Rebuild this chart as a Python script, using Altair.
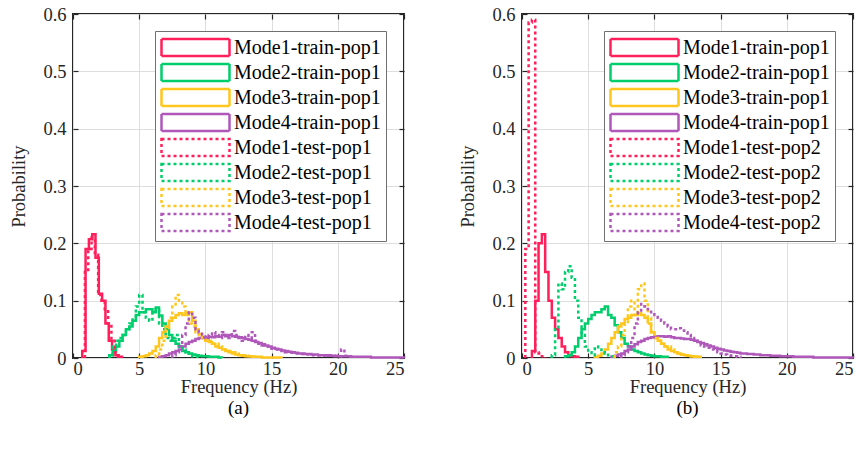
import altair as alt
import pandas as pd

FONT = "'Liberation Serif', 'Times New Roman', Times, serif"
BIN_WIDTH = 0.25  # Hz per histogram bin
W, H = 331, 344   # plot area of each panel

MODE_COLORS = ["#FF1F5B", "#00CD6C", "#FFC61E", "#AF58BA"]

# ---- panel (a): training population 1 vs. test population 1 ----
# first bin edge (Hz) of each histogram, modes 1..4
a_train_start = [0.7, 2.75, 5.0, 6.5]
a_test_start = [0.9, 2.75, 6.25, 7.5]

a_train_1 = [0.012, 0.19, 0.207, 0.216, 0.175, 0.112, 0.1, 0.06, 0.03, 0.015, 0.005, 0.002]
a_train_2 = [0.005, 0.012, 0.02, 0.03, 0.04, 0.05, 0.055, 0.065, 0.075, 0.08, 0.08, 0.085,
             0.085, 0.08, 0.088, 0.074, 0.06, 0.05, 0.04, 0.03, 0.025, 0.02, 0.012, 0.01,
             0.008, 0.006, 0.005, 0.004, 0.003, 0.003, 0.002, 0.002, 0.002, 0.001]
a_train_3 = [0.002, 0.003, 0.005, 0.008, 0.012, 0.02, 0.035, 0.045, 0.055, 0.065, 0.07, 0.075,
             0.078, 0.075, 0.078, 0.08, 0.065, 0.05, 0.042, 0.035, 0.03, 0.028, 0.025, 0.02,
             0.018, 0.015, 0.012, 0.01, 0.008, 0.006, 0.005, 0.004, 0.003, 0.003, 0.002, 0.002,
             0.002, 0.001, 0.001, 0.001, 0.001, 0.001, 0.001]
a_train_4 = [0.002, 0.003, 0.005, 0.008, 0.01, 0.012,
             0.015, 0.02, 0.025, 0.028, 0.03, 0.033,
             0.035, 0.036, 0.035, 0.037, 0.036, 0.038,
             0.037, 0.04, 0.038, 0.04, 0.038, 0.037,
             0.036, 0.035, 0.033, 0.032, 0.03, 0.028,
             0.026, 0.024, 0.022, 0.02, 0.018, 0.016,
             0.015, 0.013, 0.012, 0.011, 0.01, 0.009,
             0.008, 0.008, 0.007, 0.007, 0.006, 0.006,
             0.005, 0.005, 0.005, 0.004, 0.004, 0.004,
             0.003, 0.003, 0.003, 0.003, 0.002, 0.002,
             0.002, 0.002, 0.002, 0.002, 0.001, 0.001,
             0.001, 0.001, 0.001, 0.001, 0.001, 0.001, 0.001, 0.001]

a_test_1 = [0.15, 0.19, 0.21, 0.18, 0.11, 0.1, 0.085, 0.06, 0.03, 0.01, 0.003]
a_test_2 = [0.005, 0.02, 0.03, 0.035, 0.04, 0.05, 0.06, 0.07, 0.09, 0.11, 0.08, 0.07, 0.065,
            0.08, 0.085, 0.06, 0.05, 0.035, 0.03, 0.035, 0.04, 0.02, 0.015, 0.01, 0.005,
            0.003, 0.002]
a_test_3 = [0.005, 0.015, 0.03, 0.05, 0.07, 0.09, 0.11, 0.1, 0.09, 0.075, 0.06, 0.055, 0.045,
            0.04, 0.035, 0.03, 0.03, 0.025, 0.025, 0.02, 0.018, 0.015, 0.012, 0.01, 0.008,
            0.006, 0.005, 0.004, 0.003, 0.002]
a_test_4 = [0.005, 0.01, 0.02, 0.04, 0.06, 0.08, 0.07, 0.05, 0.045, 0.04, 0.035, 0.04,
            0.045, 0.04, 0.035, 0.045, 0.04, 0.035, 0.047, 0.04, 0.035, 0.03, 0.04, 0.035,
            0.045, 0.03, 0.025, 0.022, 0.02, 0.018, 0.016, 0.015, 0.013, 0.012, 0.01, 0.01,
            0.009, 0.008, 0.007, 0.007, 0.006, 0.006, 0.005, 0.005, 0.005, 0.004, 0.004,
            0.005, 0.004, 0.003, 0.003, 0.015, 0.004, 0.002]

# ---- panel (b): training population 1 vs. test population 2 ----
b_train_start = [0.75, 3.25, 5.5, 6.75]
b_test_start = [0.25, 2.25, 7.0, 7.5]

b_train_1 = [0.012, 0.1, 0.2, 0.216, 0.15, 0.1, 0.07, 0.05, 0.035, 0.02, 0.01, 0.005, 0.003, 0.002]
b_train_2 = [0.003, 0.005, 0.01, 0.02, 0.035, 0.05, 0.06, 0.068, 0.075, 0.08, 0.08, 0.085,
             0.09, 0.075, 0.07, 0.057, 0.045, 0.035, 0.025, 0.02, 0.015, 0.012, 0.01, 0.008,
             0.006, 0.005, 0.004, 0.003, 0.003, 0.002, 0.002]
b_train_3 = [0.002, 0.004, 0.008, 0.015, 0.025, 0.035, 0.045, 0.055, 0.06, 0.068, 0.07, 0.075,
             0.075, 0.078, 0.075, 0.07, 0.06, 0.045, 0.035, 0.03, 0.025, 0.02, 0.015, 0.012,
             0.01, 0.008, 0.006, 0.005, 0.004, 0.003, 0.002, 0.002]
b_train_4 = [0.002, 0.004, 0.006, 0.008, 0.012,
             0.015, 0.02, 0.024, 0.028, 0.03, 0.033,
             0.035, 0.036, 0.037, 0.038, 0.038, 0.037,
             0.038, 0.036, 0.035, 0.035, 0.034, 0.033,
             0.033, 0.032, 0.03, 0.028, 0.026, 0.024,
             0.022, 0.02, 0.018, 0.016, 0.015, 0.013,
             0.012, 0.011, 0.01, 0.009, 0.008, 0.008,
             0.007, 0.007, 0.006, 0.006, 0.005, 0.005,
             0.005, 0.004, 0.004, 0.004, 0.003, 0.003,
             0.003, 0.003, 0.002, 0.002, 0.002, 0.002,
             0.002, 0.002, 0.001, 0.001, 0.001, 0.001,
             0.001, 0.001, 0.001, 0.001, 0.001, 0.001, 0.001, 0.001]

b_test_1 = [0.19, 0.585, 0.59, 0.01, 0.008, 0.003]
b_test_2 = [0.005, 0.05, 0.13, 0.12, 0.15, 0.16, 0.14, 0.1, 0.07, 0.04, 0.02, 0.01, 0.005,
            0.02, 0.015, 0.01, 0.008, 0.005, 0.003]
b_test_3 = [0.01, 0.02, 0.04, 0.06, 0.09, 0.1, 0.075, 0.12, 0.13, 0.1, 0.07, 0.045, 0.035,
            0.03, 0.025, 0.02, 0.02, 0.015, 0.01, 0.008, 0.006, 0.005, 0.004, 0.003, 0.002]
b_test_4 = [0.005, 0.01, 0.02, 0.035, 0.06, 0.08, 0.094, 0.09, 0.085, 0.08, 0.075, 0.07,
            0.065, 0.06, 0.055, 0.05, 0.05, 0.052, 0.048, 0.045, 0.04, 0.035, 0.03, 0.025,
            0.022, 0.02, 0.018, 0.015, 0.012, 0.01, 0.008, 0.006, 0.005, 0.004, 0.003, 0.002]

X_TICKS = [0, 5, 10, 15, 20, 25]
Y_TICKS = [0, 0.1, 0.2, 0.3, 0.4, 0.5, 0.6]


def stair_rows(name, start, probs):
    """Outline of a stairs-style histogram: rise at the first edge, fall at the last."""
    rows = [(start, 0.0)]
    rows += [(start + i * BIN_WIDTH, p) for i, p in enumerate(probs)]
    rows.append((start + len(probs) * BIN_WIDTH, 0.0))
    return [{"series": name, "f": f, "p": p, "idx": k} for k, (f, p) in enumerate(rows)]


def build_frame(names, starts, hists):
    rows = []
    for name, start, probs in zip(names, starts, hists):
        rows += stair_rows(name, start, probs)
    return pd.DataFrame(rows)


def panel(names, df, caption):
    xs = alt.Scale(domain=[0, 25], nice=False, zero=False, padding=0)
    ys = alt.Scale(domain=[0, 0.6], nice=False, padding=0)
    dash_range = [[1, 0]] * 4 + [[3, 3]] * 4
    legend = alt.Legend(
        title=None, orient="none", legendX=82, legendY=17,
        labelFont=FONT, labelFontSize=20, labelColor="black",
        symbolType="M-1,-0.85H5.8V0.85H-1Z", symbolSize=400,
        symbolStrokeWidth=2.5, symbolFillColor="transparent",
        labelOffset=51, rowPadding=-2.4, padding=5,
        strokeColor="#707070", fillColor="white", labelLimit=400,
    )
    lines = alt.Chart(df).mark_line(
        interpolate="step-after", strokeWidth=2.5, strokeCap="butt", strokeJoin="miter"
    ).encode(
        x=alt.X("f:Q", scale=xs, axis=alt.Axis(
            values=X_TICKS, title="Frequency (Hz)", grid=True, ticks=False, domain=False,
            labelPadding=1, titlePadding=0, format="d")),
        y=alt.Y("p:Q", scale=ys, axis=alt.Axis(
            values=Y_TICKS, title="Probability", grid=True, ticks=False, domain=False,
            labelPadding=7, titlePadding=14,
            labelExpr="datum.value == 0 ? '0' : format(datum.value, '.1f')")),
        color=alt.Color("series:N", scale=alt.Scale(domain=names, range=MODE_COLORS * 2),
                        legend=legend),
        strokeDash=alt.StrokeDash("series:N", scale=alt.Scale(domain=names, range=dash_range),
                                  legend=legend),
        order="idx:Q",
    )

    tick_df = pd.DataFrame({"f": X_TICKS + [25] * (len(Y_TICKS) - len(X_TICKS)),
                            "p": Y_TICKS})
    tick_style = dict(labels=False, domain=False, grid=False, ticks=True, tickSize=5,
                      tickWidth=1.2, tickColor="#262626", title=None)
    inward_a = alt.Chart(tick_df).mark_point(opacity=0).encode(
        x=alt.X("f:Q", scale=xs, axis=alt.Axis(orient="top", offset=-H, values=X_TICKS, **tick_style)),
        y=alt.Y("p:Q", scale=ys, axis=alt.Axis(orient="right", offset=-W, values=Y_TICKS, **tick_style)),
    )
    inward_b = alt.Chart(tick_df).mark_point(opacity=0).encode(
        x=alt.X("f:Q", scale=xs, axis=alt.Axis(orient="bottom", offset=-H, values=X_TICKS, **tick_style)),
        y=alt.Y("p:Q", scale=ys, axis=alt.Axis(orient="left", offset=-W, values=Y_TICKS, **tick_style)),
    )
    return alt.layer(lines, inward_a, inward_b).resolve_axis(
        x="independent", y="independent"
    ).properties(
        width=W, height=H,
        title=alt.TitleParams(caption, orient="bottom", font=FONT, fontSize=19,
                              fontWeight="normal", color="black", offset=3),
    )


names_a = ["Mode1-train-pop1", "Mode2-train-pop1", "Mode3-train-pop1", "Mode4-train-pop1",
           "Mode1-test-pop1", "Mode2-test-pop1", "Mode3-test-pop1", "Mode4-test-pop1"]
names_b = ["Mode1-train-pop1", "Mode2-train-pop1", "Mode3-train-pop1", "Mode4-train-pop1",
           "Mode1-test-pop2", "Mode2-test-pop2", "Mode3-test-pop2", "Mode4-test-pop2"]

df_a = build_frame(names_a, a_train_start + a_test_start,
                   [a_train_1, a_train_2, a_train_3, a_train_4, a_test_1, a_test_2, a_test_3, a_test_4])
df_b = build_frame(names_b, b_train_start + b_test_start,
                   [b_train_1, b_train_2, b_train_3, b_train_4, b_test_1, b_test_2, b_test_3, b_test_4])

chart = alt.hconcat(
    panel(names_a, df_a, "(a)"),
    panel(names_b, df_b, "(b)"),
    spacing=47,
).resolve_scale(color="independent", strokeDash="independent").properties(
    padding={"left": 8, "top": 4, "right": 0, "bottom": 5},
).configure(
    font=FONT,
).configure_view(
    stroke="#262626", strokeWidth=2,
).configure_axis(
    labelFont=FONT, titleFont=FONT, labelFontSize=18.5, titleFontSize=18.5,
    labelColor="#262626", titleColor="#262626", titleFontWeight="normal",
    gridColor="#dedede", gridWidth=1,
)

chart.save("out.html", embed_options={"renderer": "svg", "actions": False})
